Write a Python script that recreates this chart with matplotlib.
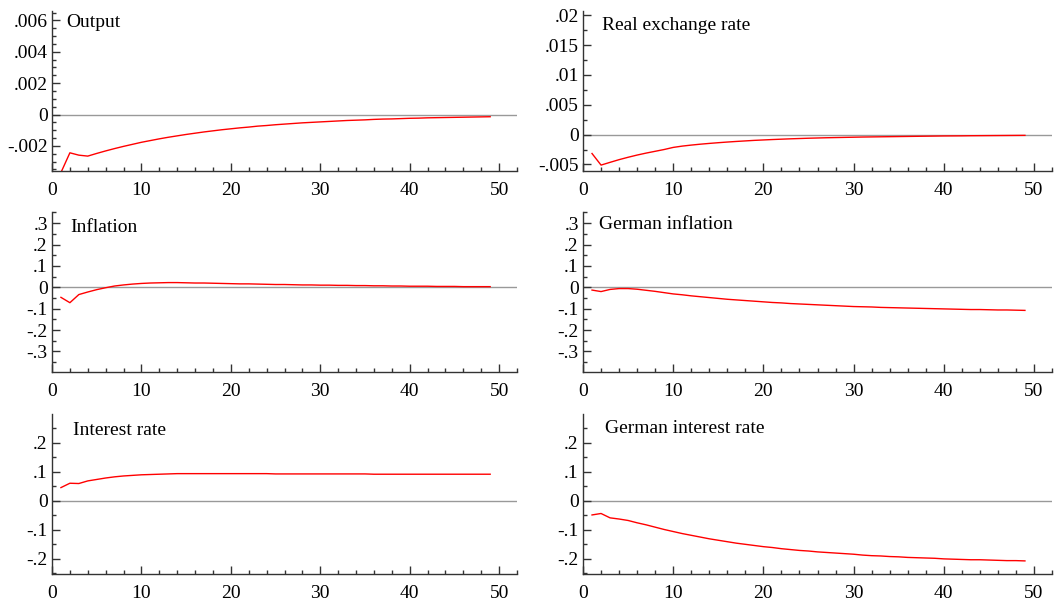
import matplotlib
matplotlib.use("Agg")
import matplotlib.pyplot as plt
from matplotlib.ticker import MultipleLocator, FuncFormatter

plt.rcParams["font.family"] = ["Liberation Serif", "DejaVu Serif"]

# horizon (periods)
periods = list(range(1, 50))

output = [-0.0037, -0.00244, -0.00259, -0.00265, -0.00248, -0.00232, -0.00217, -0.00203, -0.00190, -0.00177,
          -0.00166, -0.00155, -0.00145, -0.00136, -0.00127, -0.00119, -0.00111, -0.00104, -0.00097, -0.00091,
          -0.00085, -0.00080, -0.00074, -0.00070, -0.00065, -0.00061, -0.00057, -0.00053, -0.00050, -0.00047,
          -0.00044, -0.00041, -0.00038, -0.00036, -0.00034, -0.00031, -0.00029, -0.00028, -0.00026, -0.00024,
          -0.00023, -0.00021, -0.00020, -0.00019, -0.00018, -0.00017, -0.00016, -0.00015, -0.00014]

real_exchange = [-0.00317, -0.00511, -0.00465, -0.00420, -0.00380, -0.00343, -0.00310, -0.00280, -0.00250, -0.00215,
                 -0.00193, -0.00176, -0.00161, -0.00148, -0.00136, -0.00125, -0.00115, -0.00106, -0.00097, -0.00090,
                 -0.00083, -0.00077, -0.00071, -0.00066, -0.00061, -0.00057, -0.00053, -0.00050, -0.00047, -0.00044,
                 -0.00041, -0.00039, -0.00037, -0.00035, -0.00033, -0.00031, -0.00029, -0.00027, -0.00025, -0.00023,
                 -0.00022, -0.00021, -0.00019, -0.00018, -0.00017, -0.00016, -0.00015, -0.00014, -0.00013]

inflation = [-0.047, -0.072, -0.034, -0.022, -0.011, -0.002, 0.006, 0.011, 0.015, 0.018,
             0.020, 0.021, 0.022, 0.022, 0.021, 0.020, 0.020, 0.019, 0.018, 0.017,
             0.016, 0.016, 0.015, 0.014, 0.013, 0.013, 0.012, 0.011, 0.011, 0.010,
             0.010, 0.009, 0.009, 0.008, 0.008, 0.007, 0.007, 0.006, 0.006, 0.005,
             0.005, 0.005, 0.004, 0.004, 0.004, 0.003, 0.003, 0.003, 0.003]

german_inflation = [-0.013, -0.020, -0.010, -0.006, -0.006, -0.009, -0.014, -0.019, -0.025, -0.031,
                    -0.035, -0.040, -0.044, -0.048, -0.052, -0.056, -0.059, -0.062, -0.065, -0.068,
                    -0.071, -0.073, -0.076, -0.078, -0.080, -0.082, -0.084, -0.086, -0.088, -0.090,
                    -0.091, -0.092, -0.094, -0.095, -0.096, -0.097, -0.098, -0.099, -0.100, -0.101,
                    -0.102, -0.103, -0.104, -0.104, -0.105, -0.106, -0.106, -0.107, -0.108]

interest = [0.045, 0.060, 0.059, 0.068, 0.073, 0.078, 0.082, 0.085, 0.087, 0.089,
            0.090, 0.091, 0.092, 0.093, 0.093, 0.093, 0.093, 0.093, 0.093, 0.093,
            0.093, 0.093, 0.093, 0.093, 0.092, 0.092, 0.092, 0.092, 0.092, 0.092,
            0.092, 0.092, 0.092, 0.092, 0.092, 0.091, 0.091, 0.091, 0.091, 0.091,
            0.091, 0.091, 0.091, 0.091, 0.091, 0.091, 0.091, 0.091, 0.091]

german_interest = [-0.049, -0.044, -0.059, -0.063, -0.068, -0.076, -0.083, -0.091, -0.099, -0.106,
                   -0.113, -0.119, -0.125, -0.131, -0.136, -0.141, -0.146, -0.150, -0.154, -0.158,
                   -0.161, -0.165, -0.168, -0.171, -0.173, -0.176, -0.178, -0.180, -0.182, -0.184,
                   -0.187, -0.189, -0.190, -0.192, -0.193, -0.195, -0.196, -0.197, -0.198, -0.200,
                   -0.201, -0.202, -0.203, -0.203, -0.204, -0.205, -0.206, -0.206, -0.207]

titles = ["Output", "Real exchange rate", "Inflation", "German inflation",
          "Interest rate", "German interest rate"]
series = [output, real_exchange, inflation, german_inflation, interest, german_interest]
ylims = [(-0.0036, 0.0066), (-0.0061, 0.0207), (-0.396, 0.352), (-0.396, 0.352),
         (-0.252, 0.298), (-0.252, 0.298)]
major_steps = [0.002, 0.005, 0.1, 0.1, 0.1, 0.1]
minor_steps = [0.0005, 0.0025, 0.05, 0.05, 0.05, 0.05]
title_pos = [(0.030, 0.93), (0.040, 0.912), (0.039, 0.90), (0.034, 0.92),
             (0.045, 0.896), (0.047, 0.91)]


def strip_zero(v, pos):
    if abs(v) < 1e-12:
        return "0"
    s = ("%.4f" % v).rstrip("0")
    return s.replace("0.", ".")


W, H = 1056, 608
fig = plt.figure(figsize=(W / 100, H / 100), dpi=100)

cols = [(52, 517), (583, 1052)]
rows = [(11, 171), (212, 372), (414, 574)]

for i, (title, ys) in enumerate(zip(titles, series)):
    x0, x1 = cols[i % 2]
    t0, b0 = rows[i // 2]
    ax = fig.add_axes([x0 / W, 1 - b0 / H, (x1 - x0) / W, (b0 - t0) / H])
    ax.axhline(0, color="#999999", lw=1.0, zorder=1)
    ax.plot(periods, ys, color="red", lw=1.0, zorder=2)
    ax.set_xlim(0, 52)
    ax.set_ylim(*ylims[i])
    ax.xaxis.set_major_locator(MultipleLocator(10))
    ax.xaxis.set_minor_locator(MultipleLocator(2))
    ax.yaxis.set_major_locator(MultipleLocator(major_steps[i]))
    ax.yaxis.set_minor_locator(MultipleLocator(minor_steps[i]))
    ax.yaxis.set_major_formatter(FuncFormatter(strip_zero))
    for side in ["top", "right"]:
        ax.spines[side].set_visible(False)
    for side in ["left", "bottom"]:
        ax.spines[side].set_color("#333333")
        ax.spines[side].set_linewidth(1.0)
    ax.tick_params(which="major", direction="in", length=6, width=1, color="#333333",
                   labelsize=14)
    ax.tick_params(which="minor", direction="in", length=3, width=1, color="#333333")
    ax.tick_params(axis="y", pad=3)
    ax.tick_params(axis="x", pad=8)
    ax.text(title_pos[i][0], title_pos[i][1], title, transform=ax.transAxes,
            fontsize=14, va="center", ha="left")

fig.savefig("out.png", dpi=100)
